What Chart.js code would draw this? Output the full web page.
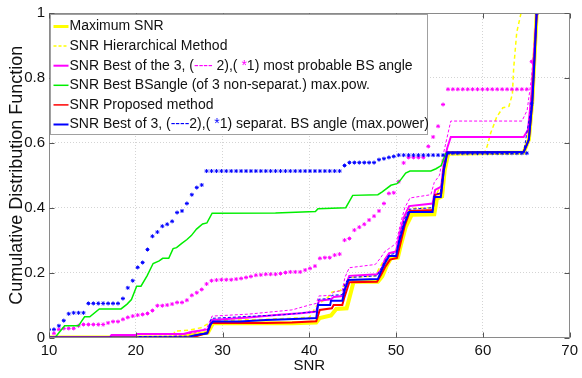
<!DOCTYPE html>
<html>
<head>
<meta charset="utf-8">
<script src="https://cdn.jsdelivr.net/npm/chart.js@4.4.0/dist/chart.umd.min.js"></script>
<style>
  html, body { margin: 0; padding: 0; background: #fff; }
</style>
</head>
<body>
<canvas id="cdfChart" width="582" height="378"></canvas>
<script>
// Tick labels
const xTickLabels = ["10", "20", "30", "40", "50", "60", "70"];
const yTickLabels = ["0", "0.2", "0.4", "0.6", "0.8", "1"];

// SNR grid where the star markers (*1) were sampled
const starSnr = [
  10.00, 10.57, 11.14, 11.70, 12.27, 12.84, 13.41, 13.97, 14.54, 15.11,
  15.68, 16.24, 16.81, 17.38, 17.95, 18.52, 19.08, 19.65, 20.22, 20.79,
  21.35, 21.92, 22.49, 23.06, 23.62, 24.19, 24.76, 25.33, 25.89, 26.46,
  27.03, 27.60, 28.16, 28.73, 29.30, 29.87, 30.43, 31.00, 31.57, 32.14,
  32.71, 33.27, 33.84, 34.41, 34.98, 35.54, 36.11, 36.68, 37.25, 37.81,
  38.38, 38.95, 39.52, 40.08, 40.65, 41.22, 41.79, 42.35, 42.92, 43.49,
  44.06, 44.62, 45.19, 45.76, 46.33, 46.89, 47.46, 48.03, 48.60, 49.17,
  49.73, 50.30, 50.87, 51.44, 52.00, 52.57, 53.14, 53.71, 54.27, 54.84,
  55.41, 55.98, 56.54, 57.11, 57.68, 58.25, 58.81, 59.38, 59.95, 60.52,
  61.08, 61.65, 62.22, 62.79, 63.35, 63.92, 64.49, 65.06, 65.62, 66.19
];

// magenta stars: best of the 3, most probable BS angle (*1)
const bestOf3Stars = [
  0, 0.013, 0.025, 0.028, 0.028, 0.028, 0.036, 0.04, 0.04, 0.04,
  0.04, 0.04, 0.045, 0.049, 0.049, 0.056, 0.062, 0.066, 0.069, 0.071,
  0.074, 0.083, 0.098, 0.098, 0.1, 0.103, 0.108, 0.108, 0.115, 0.13,
  0.138, 0.148, 0.165, 0.175, 0.177, 0.178, 0.178, 0.178, 0.18, 0.182,
  0.185, 0.188, 0.192, 0.193, 0.195, 0.195, 0.195, 0.197, 0.2, 0.202,
  0.202, 0.202, 0.208, 0.213, 0.22, 0.244, 0.246, 0.246, 0.254, 0.257,
  0.3, 0.305, 0.331, 0.34, 0.349, 0.362, 0.374, 0.39, 0.413, 0.444,
  0.446, 0.48, 0.538, 0.555, 0.555, 0.555, 0.555, 0.589, 0.618, 0.651,
  0.718, 0.765, 0.765, 0.765, 0.765, 0.765, 0.765, 0.765, 0.765, 0.765,
  0.765, 0.765, 0.765, 0.765, 0.765, 0.765, 0.765, 0.765, 0.85, 1
];

// blue stars: best of 3 separat. BS angle (*1)
const separatStars = [
  0.025, 0.025, 0.036, 0.052, 0.073, 0.076, 0.076, 0.076, 0.105, 0.105,
  0.105, 0.105, 0.105, 0.105, 0.105, 0.12, 0.153, 0.175, 0.216, 0.231,
  0.271, 0.312, 0.325, 0.343, 0.349, 0.358, 0.385, 0.39, 0.413, 0.44,
  0.462, 0.47, 0.513, 0.513, 0.513, 0.513, 0.513, 0.513, 0.513, 0.513,
  0.513, 0.513, 0.513, 0.513, 0.513, 0.513, 0.513, 0.513, 0.513, 0.513,
  0.513, 0.513, 0.513, 0.513, 0.513, 0.513, 0.513, 0.513, 0.513, 0.513,
  0.53, 0.539, 0.539, 0.539, 0.539, 0.539, 0.539, 0.548, 0.551, 0.555,
  0.558, 0.562, 0.562, 0.562, 0.562, 0.562, 0.562, 0.562, 0.562, 0.562,
  0.562, 0.568, 0.568, 0.568, 0.568, 0.568, 0.568, 0.568, 0.568, 0.568,
  0.568, 0.568, 0.568, 0.568, 0.568, 0.568, 0.568, 0.568, 0.72, 1
];

// [SNR, CDF] points of each curve
const maxSnr = [[10,0],[25,0],[26.5,0.008],[28.3,0.015],[28.9,0.044],[38,0.044],[40.8,0.046],[41.2,0.06],[42.5,0.068],[43.1,0.088],[44.3,0.09],[44.7,0.13],[45.1,0.172],[47.9,0.172],[48.4,0.188],[48.9,0.22],[49.4,0.244],[50.2,0.246],[50.6,0.29],[51.1,0.34],[51.8,0.378],[54.4,0.38],[54.7,0.428],[55.3,0.435],[55.6,0.515],[56,0.566],[64.7,0.57],[65.3,0.61],[65.7,0.73],[66.2,1]];
const hierarchical = [[10,0],[24.3,0],[24.5,0.02],[26,0.022],[27.5,0.03],[28.5,0.045],[28.9,0.052],[35,0.056],[40,0.062],[40.9,0.1],[42.2,0.125],[42.6,0.14],[43.6,0.145],[44.1,0.165],[44.6,0.185],[47.6,0.19],[48.1,0.215],[48.6,0.238],[49.2,0.258],[50,0.268],[50.5,0.32],[51,0.37],[51.6,0.398],[54.2,0.4],[54.6,0.44],[55.2,0.47],[55.6,0.53],[56,0.57],[60.2,0.57],[60.5,0.59],[60.9,0.63],[61.6,0.68],[62.3,0.708],[63,0.712],[63.4,0.75],[63.55,0.83],[63.9,0.94],[64.4,1]];
const bestOf3 = [[10,0],[17,0],[17.2,0.008],[20,0.008],[20.2,0.011],[25.5,0.011],[26.5,0.018],[28.3,0.025],[28.8,0.054],[33,0.062],[36.5,0.07],[39,0.075],[40.8,0.08],[41.1,0.113],[42.5,0.118],[42.8,0.125],[43.8,0.128],[44.2,0.16],[44.6,0.19],[47.8,0.195],[48.3,0.21],[48.7,0.24],[49.2,0.26],[50,0.265],[50.4,0.32],[50.9,0.37],[51.5,0.405],[54.2,0.413],[54.5,0.455],[55.2,0.465],[55.5,0.54],[55.9,0.585],[56.3,0.618],[64.7,0.618],[65.2,0.64],[65.6,0.75],[66.2,1]];
const bestOf3Dash = [[10,0],[24,0],[25,0.008],[27,0.015],[28.2,0.03],[28.8,0.066],[33,0.072],[38,0.085],[40,0.1],[40.8,0.105],[41.1,0.128],[42.5,0.13],[42.8,0.14],[43.8,0.145],[44.1,0.185],[44.6,0.215],[47.6,0.225],[48.2,0.245],[48.7,0.265],[49.5,0.28],[50,0.29],[50.5,0.35],[51,0.4],[51.6,0.43],[54,0.44],[54.4,0.478],[55,0.5],[55.4,0.56],[56.3,0.667],[64.5,0.667],[65.1,0.7],[65.6,0.8],[66.2,1]];
const bestBsAngle = [[10,0],[10.7,0],[11.8,0.036],[13.4,0.036],[14.1,0.064],[14.7,0.064],[15.8,0.088],[18.3,0.088],[19,0.103],[19.5,0.117],[20.1,0.158],[20.6,0.158],[21.3,0.19],[22,0.228],[22.7,0.236],[23.1,0.244],[23.8,0.244],[24.3,0.274],[24.7,0.277],[25.3,0.29],[25.9,0.302],[26.4,0.314],[27,0.334],[27.7,0.35],[28.2,0.353],[28.8,0.383],[36.1,0.384],[40.7,0.388],[41,0.397],[44.2,0.4],[45,0.438],[47.9,0.44],[48.4,0.449],[49.4,0.469],[50.1,0.474],[50.5,0.485],[51.1,0.507],[51.6,0.513],[54,0.513],[54.6,0.52],[55.2,0.53],[55.7,0.567],[56,0.57],[64.7,0.572],[65.3,0.61],[65.7,0.73],[66.2,1]];
const proposed = [[10,0],[26.5,0],[27.5,0.008],[28.3,0.015],[28.7,0.045],[35,0.045],[38,0.046],[40.8,0.05],[41.2,0.085],[42.6,0.09],[42.8,0.1],[43.8,0.1],[44,0.12],[44.6,0.17],[47.8,0.172],[48.3,0.195],[48.8,0.22],[49.3,0.24],[50.1,0.245],[50.5,0.29],[51,0.345],[51.6,0.39],[54.2,0.393],[54.5,0.44],[55.2,0.445],[55.5,0.52],[55.9,0.57],[64.7,0.572],[65.3,0.61],[65.7,0.73],[66.2,1]];
const separat = [[10,0],[26.3,0],[26.5,0.005],[27.5,0.01],[28.2,0.012],[28.6,0.04],[28.9,0.049],[32,0.049],[35,0.054],[39,0.058],[40.8,0.06],[41,0.1],[42.4,0.1],[42.5,0.113],[43.8,0.113],[44.1,0.148],[44.5,0.177],[47.9,0.18],[48.2,0.2],[48.7,0.228],[49.2,0.251],[50,0.251],[50.4,0.3],[50.96,0.351],[51.5,0.387],[54.2,0.387],[54.4,0.433],[55.15,0.433],[55.5,0.515],[55.9,0.57],[64.7,0.572],[65,0.59],[65.3,0.61],[65.7,0.73],[65.9,0.83],[66.2,1]];
const separatDash = [[10,0],[20,0],[20.2,0.003],[26,0.004],[27,0.008],[28.2,0.015],[28.7,0.059],[33,0.065],[37,0.07],[40.8,0.08],[41.1,0.118],[42.4,0.12],[42.6,0.13],[43.8,0.132],[44.1,0.165],[44.6,0.185],[47.8,0.19],[48.2,0.21],[48.7,0.235],[49.2,0.255],[50,0.26],[50.4,0.31],[50.9,0.36],[51.5,0.395],[54.2,0.4],[54.4,0.44],[55.1,0.445],[55.5,0.53],[55.9,0.57],[64.7,0.572],[65.7,0.73],[66.2,1]];

// Legend rows: odd parts are drawn in the series colour
const legendLabels = [
  ["Maximum SNR"],
  ["SNR Hierarchical Method"],
  ["SNR Best of the 3, (", "----", " 2),( ", "*", "1) most probable BS angle"],
  ["SNR Best BSangle (of 3 non-separat.) max.pow."],
  ["SNR Proposed method"],
  ["SNR Best of 3, (", "----", "2),( ", "*", "1) separat. BS angle (max.power)"]
];

const YELLOW = "#ffff00", MAGENTA = "#ff00ff", GREEN = "#00ee00", RED = "#ff0000", BLUE = "#0000ff";
const legendStyles = [
  { color: YELLOW, width: 3, dash: [] },
  { color: YELLOW, width: 1.5, dash: [3, 2] },
  { color: MAGENTA, width: 2, dash: [] },
  { color: GREEN, width: 1.5, dash: [] },
  { color: RED, width: 1.5, dash: [] },
  { color: BLUE, width: 2, dash: [] }
];

const toPts = arr => arr.map(([x, y]) => ({ x, y }));
const starPts = ys => ys.map((y, i) => ({ x: starSnr[i], y }));

function lineSet(label, pts, color, width, dash, order) {
  return {
    label, data: toPts(pts), showLine: true, borderColor: color, backgroundColor: color,
    borderWidth: width, borderDash: dash, pointRadius: 0, tension: 0, order
  };
}
function starSet(label, ys, color, order) {
  return {
    label, data: starPts(ys), showLine: false, pointStyle: "star", pointRadius: 2,
    borderWidth: 1, borderColor: color, backgroundColor: color, order
  };
}

const FONT = "'Liberation Sans', Arial, sans-serif";

// frame, inner tick marks and the boxed legend (matlab style)
const frameLegend = {
  id: "frameLegend",
  afterDraw(chart) {
    const { ctx, chartArea: a, scales: { x, y } } = chart;
    ctx.save();
    ctx.strokeStyle = "#8a8a8a";
    ctx.lineWidth = 1;
    const L = Math.round(a.left) + 0.5, T = Math.round(a.top) + 0.5;
    const R = Math.round(a.right) - 0.5, B = Math.round(a.bottom) - 0.5;
    ctx.strokeRect(L, T, R - L, B - T);

    ctx.strokeStyle = "#555";
    ctx.beginPath();
    x.ticks.forEach(t => {
      const px = Math.round(x.getPixelForValue(t.value)) + 0.5;
      ctx.moveTo(px, B); ctx.lineTo(px, B - 5);
      ctx.moveTo(px, T); ctx.lineTo(px, T + 5);
    });
    y.ticks.forEach(t => {
      const py = Math.round(y.getPixelForValue(t.value)) + 0.5;
      ctx.moveTo(L, py); ctx.lineTo(L + 5, py);
      ctx.moveTo(R, py); ctx.lineTo(R - 5, py);
    });
    ctx.stroke();

    // legend box
    const bx = L + 1, by = T + 1, bw = 377, bh = 120;
    ctx.fillStyle = "#fff";
    ctx.fillRect(bx, by, bw, bh);
    ctx.strokeStyle = "#a0a0a0";
    ctx.strokeRect(bx, by, bw, bh);

    ctx.font = "14px " + FONT;
    ctx.textBaseline = "middle";
    legendLabels.forEach((parts, i) => {
      const st = legendStyles[i];
      const ry = by + 12 + i * 19.6;
      ctx.beginPath();
      ctx.strokeStyle = st.color;
      ctx.lineWidth = st.width;
      ctx.setLineDash(st.dash);
      ctx.moveTo(bx + 3, ry);
      ctx.lineTo(bx + 18, ry);
      ctx.stroke();
      ctx.setLineDash([]);
      let tx = bx + 19;
      parts.forEach((p, j) => {
        ctx.fillStyle = j % 2 === 1 ? st.color : "#111";
        ctx.fillText(p, tx, ry);
        tx += ctx.measureText(p).width;
      });
    });
    ctx.restore();
  }
};

new Chart(document.getElementById("cdfChart").getContext("2d"), {
  type: "scatter",
  data: {
    datasets: [
      lineSet("Maximum SNR", maxSnr, YELLOW, 4, [], 10),
      lineSet("SNR Hierarchical Method", hierarchical, YELLOW, 1.5, [4, 3], 9),
      lineSet("SNR Best of the 3", bestOf3, MAGENTA, 2, [], 8),
      lineSet("SNR Best of the 3 (2)", bestOf3Dash, MAGENTA, 1, [3, 2], 7),
      starSet("SNR Best of the 3 (1)", bestOf3Stars, MAGENTA, 6),
      lineSet("SNR Best BSangle", bestBsAngle, GREEN, 1.5, [], 5),
      lineSet("SNR Proposed method", proposed, RED, 2, [], 4),
      lineSet("SNR Best of 3 separat.", separat, BLUE, 2, [], 3),
      lineSet("SNR Best of 3 separat. (2)", separatDash, BLUE, 1, [3, 2], 2),
      starSet("SNR Best of 3 separat. (1)", separatStars, BLUE, 1)
    ]
  },
  options: {
    responsive: false,
    animation: false,
    layout: { padding: { top: 11, right: 9, left: 0, bottom: 0 } },
    plugins: { legend: { display: false }, tooltip: { enabled: false } },
    scales: {
      x: {
        type: "linear", min: 10, max: 70,
        ticks: {
          stepSize: 10, padding: 4, color: "#111",
          font: { family: FONT, size: 15 },
          callback: (v, i) => xTickLabels[i]
        },
        grid: { color: "#d4d4d4", drawTicks: false },
        border: { display: false, dash: [1, 2] },
        title: { display: true, text: "SNR", color: "#111", font: { family: FONT, size: 15 }, padding: { top: 0, bottom: 3 } },
        afterFit(s) { s.height = 40.5; }
      },
      y: {
        min: 0, max: 1,
        ticks: {
          stepSize: 0.2, padding: 4, color: "#111",
          font: { family: FONT, size: 15 },
          callback: (v, i) => yTickLabels[i]
        },
        grid: { color: "#d4d4d4", drawTicks: false },
        border: { display: false, dash: [1, 2] },
        title: { display: true, text: "Cumulative Distribution Function", color: "#111", font: { family: FONT, size: 18 }, padding: { top: 6, bottom: 0 } },
        afterFit(s) { s.width = 49; }
      }
    }
  },
  plugins: [frameLegend]
});
</script>
</body>
</html>
